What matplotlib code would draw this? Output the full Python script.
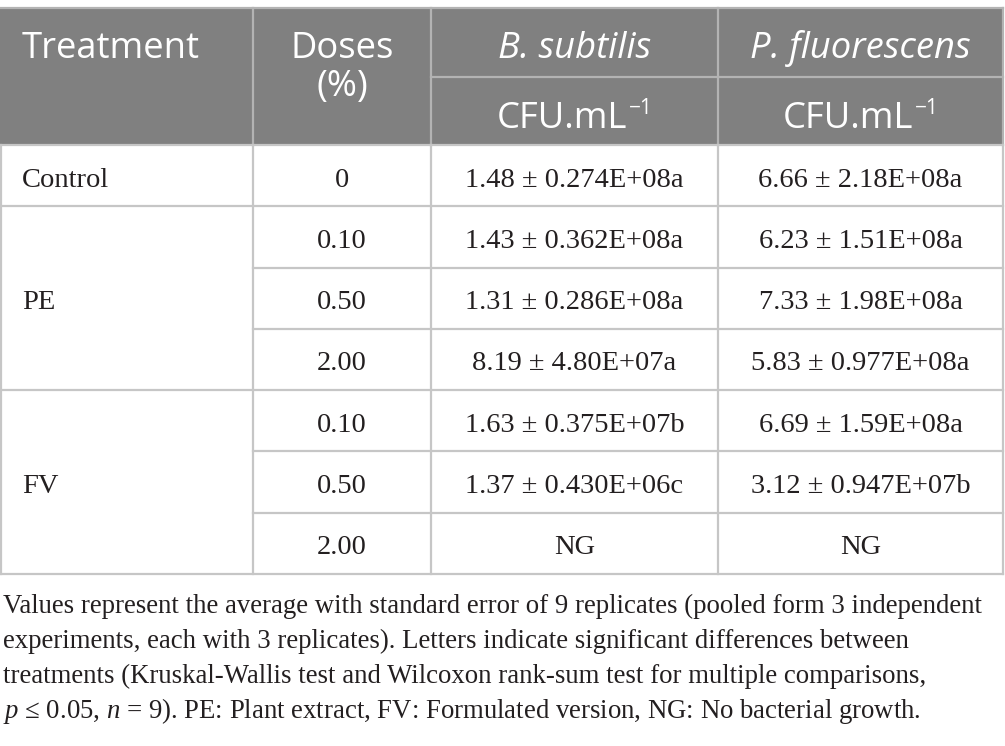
import matplotlib
matplotlib.use("Agg")
import matplotlib.pyplot as plt
from matplotlib.patches import Rectangle

plt.rcParams['mathtext.fontset'] = 'custom'
plt.rcParams['mathtext.rm'] = 'Liberation Serif'
plt.rcParams['mathtext.it'] = 'Liberation Serif:italic'

# table content
columns = ["Treatment", "Doses", "B. subtilis", "P. fluorescens"]
unit_base, unit_sup = "CFU.mL", "−1"
groups = ["Control", "PE", "FV"]
group_sizes = [1, 3, 3]
doses = ["0", "0.10", "0.50", "2.00", "0.10", "0.50", "2.00"]

bs_mean = ["1.48", "1.43", "1.31", "8.19", "1.63", "1.37", None]
bs_se = ["0.274", "0.362", "0.286", "4.80", "0.375", "0.430", None]
bs_exp = ["08", "08", "08", "07", "07", "06", None]
bs_letter = ["a", "a", "a", "a", "b", "c", None]

pf_mean = ["6.66", "6.23", "7.33", "5.83", "6.69", "3.12", None]
pf_se = ["2.18", "1.51", "1.98", "0.977", "1.59", "0.947", None]
pf_exp = ["08", "08", "08", "08", "08", "07", None]
pf_letter = ["a", "a", "a", "a", "a", "b", None]

caption = [
    "Values represent the average with standard error of 9 replicates (pooled form 3 independent",
    "experiments, each with 3 replicates). Letters indicate significant differences between",
    "treatments (Kruskal-Wallis test and Wilcoxon rank-sum test for multiple comparisons,",
    r"$p$ ≤ 0.05, $n$ = 9). PE: Plant extract, FV: Formulated version, NG: No bacterial growth.",
]


def cell(mean, se, exp, letter):
    if mean is None:
        return "NG"
    return f"{mean} ± {se}E+{exp}{letter}"


W, H = 1005, 746
fig = plt.figure(figsize=(W / 100, H / 100), dpi=100)
ax = fig.add_axes([0, 0, 1, 1])
ax.set_xlim(0, W)
ax.set_ylim(H, 0)
ax.axis("off")
renderer = fig.canvas.get_renderer()

col_x = [0, 253, 431, 718, 1003]
top, mid, head_bot, bot = 8, 77, 145, 574
row_h = (bot - head_bot) / len(doses)
head_line = "#b3b3b3"
body_line = "#c6c6c6"
lw = 1.6

# header background
ax.add_patch(Rectangle((0, top), col_x[-1], head_bot - top, fc="#808080", ec="none", zorder=0))

# grid lines
ax.plot([0, col_x[-1]], [top, top], color=head_line, lw=lw)
ax.plot([col_x[2], col_x[-1]], [mid, mid], color=head_line, lw=lw)
for x in col_x[1:]:
    ax.plot([x, x], [top, head_bot], color=head_line, lw=lw)
    ax.plot([x, x], [head_bot, bot], color=body_line, lw=lw)
ax.plot([0.8, 0.8], [head_bot, bot], color=body_line, lw=lw)
ax.plot([0, col_x[-1]], [head_bot, head_bot], color=body_line, lw=lw)

bounds = []
s = 0
for n in group_sizes:
    s += n
    bounds.append(s)
for i in range(1, len(doses) + 1):
    y = head_bot + i * row_h
    x0 = 0 if i in bounds else col_x[1]
    ax.plot([x0, col_x[-1]], [y, y], color=body_line, lw=lw)

# header text
hk = dict(family="Open Sans", size=26.2, color="white", va="baseline")
ax.text(22, 58, columns[0], ha="left", **hk)
ax.text((col_x[1] + col_x[2]) / 2, 58, columns[1], ha="center", **hk)
ax.text((col_x[1] + col_x[2]) / 2, 96, "(%)", ha="center", **hk)
ax.text((col_x[2] + col_x[3]) / 2, 58, columns[2], ha="center", style="italic", **hk)
ax.text((col_x[3] + col_x[4]) / 2, 58, columns[3], ha="center", style="italic", **hk)

for c in (2, 3):
    xc = (col_x[c] + col_x[c + 1]) / 2
    t1 = ax.text(0, 128, unit_base, ha="left", **hk)
    t2 = ax.text(0, 114, unit_sup, ha="left", family="Open Sans", size=15,
                 color="white", va="baseline")
    w1 = t1.get_window_extent(renderer).width
    w2 = t2.get_window_extent(renderer).width
    x0 = xc - (w1 + 2 + w2) / 2
    t1.set_x(x0)
    t2.set_x(x0 + w1 + 2)

# body text
bk = dict(family="Liberation Serif", size=20.5, color="#231f20", va="baseline")
for i in range(len(doses)):
    yb = head_bot + (i + 0.5) * row_h + 11
    ax.text((col_x[1] + col_x[2]) / 2, yb, doses[i], ha="center", **bk)
    ax.text((col_x[2] + col_x[3]) / 2, yb,
            cell(bs_mean[i], bs_se[i], bs_exp[i], bs_letter[i]), ha="center", **bk)
    ax.text((col_x[3] + col_x[4]) / 2, yb,
            cell(pf_mean[i], pf_se[i], pf_exp[i], pf_letter[i]), ha="center", **bk)

start = 0
for g, n in zip(groups, group_sizes):
    yb = head_bot + (start + n / 2) * row_h + 11
    ax.text(22, yb, g, ha="left", **bk)
    start += n

# footnote
for k, line in enumerate(caption):
    ax.text(3, 613 + k * 35, line, ha="left", family="Liberation Serif", size=19.3,
            color="#231f20", va="baseline")

fig.savefig("out.png", dpi=100)
